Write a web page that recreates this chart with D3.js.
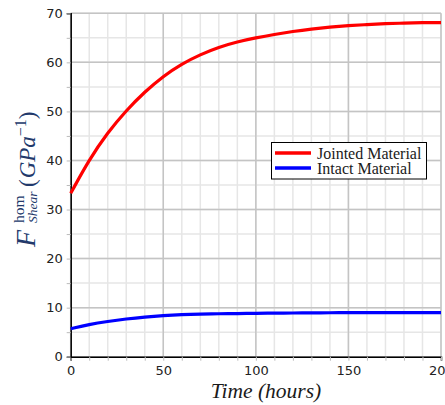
<!DOCTYPE html>
<html lang="en">
<head>
    <meta charset="UTF-8">
    <title>F shear hom vs time</title>
    <style>
        body { margin: 0; background: #fff; }
        svg { display: block; }
    </style>
</head>
<body>
    <div id="chart"></div>
    <script src="https://d3js.org/d3.v7.min.js"></script>
    <script>
        // values
        const timeHours = [0, 10, 20, 30, 40, 50, 60, 70, 80, 90, 100, 110, 120, 130, 140, 150, 160, 170, 180, 190, 200];
        const jointed = [33.3, 40.2, 45.7, 50.2, 54.0, 57.2, 59.7, 61.6, 63.1, 64.2, 65.0, 65.7, 66.3, 66.8, 67.2, 67.5, 67.7, 67.9, 68.0, 68.1, 68.1];
        const intact = [5.7, 6.6, 7.2, 7.7, 8.1, 8.4, 8.6, 8.7, 8.75, 8.8, 8.85, 8.9, 8.9, 8.95, 8.95, 9.0, 9.0, 9.0, 9.0, 9.0, 9.0];
        const xTicks = [0, 50, 100, 150, 200];
        const yTicks = [0, 10, 20, 30, 40, 50, 60, 70];
        const seriesNames = ["Jointed Material", "Intact Material"];
        const seriesColors = ["#ff0000", "#0000ff"];

        const width = 445, height = 405;
        const margin = { left: 70.7, right: 4, top: 13.3, bottom: 48.3 };

        const svg = d3.select("#chart").append("svg")
            .attr("width", width)
            .attr("height", height);

        const x = d3.scaleLinear().domain([0, 200]).range([margin.left, width - margin.right]);
        const y = d3.scaleLinear().domain([0, 70]).range([height - margin.bottom, margin.top]);

        // minor grid
        const xMinor = d3.range(0, 201, 10);
        const yMinor = d3.range(0, 71, 5);
        svg.append("g").selectAll("line").data(xMinor).join("line")
            .attr("x1", d => x(d)).attr("x2", d => x(d))
            .attr("y1", y(0)).attr("y2", y(70))
            .attr("stroke", "#e6e6e6").attr("stroke-width", 1.5);
        svg.append("g").selectAll("line").data(yMinor).join("line")
            .attr("y1", d => y(d)).attr("y2", d => y(d))
            .attr("x1", x(0)).attr("x2", x(200))
            .attr("stroke", "#e6e6e6").attr("stroke-width", 1.5);

        // major grid
        svg.append("g").selectAll("line").data(xTicks).join("line")
            .attr("x1", d => x(d)).attr("x2", d => x(d))
            .attr("y1", y(0)).attr("y2", y(70))
            .attr("stroke", "#c4c4c4").attr("stroke-width", 1.5);
        svg.append("g").selectAll("line").data(yTicks).join("line")
            .attr("y1", d => y(d)).attr("y2", d => y(d))
            .attr("x1", x(0)).attr("x2", x(200))
            .attr("stroke", "#c4c4c4").attr("stroke-width", 1.5);

        // axes
        const xAxis = d3.axisBottom(x).tickValues(xMinor).tickSize(4)
            .tickFormat(d => xTicks.includes(d) ? d : "");
        const gx = svg.append("g").attr("transform", `translate(0,${y(0)})`).call(xAxis);
        const yAxis = d3.axisLeft(y).tickValues(yMinor).tickSize(4)
            .tickFormat(d => yTicks.includes(d) ? d : "");
        const gy = svg.append("g").attr("transform", `translate(${x(0)},0)`).call(yAxis);

        [gx, gy].forEach(g => {
            g.select(".domain").attr("stroke", "#000").attr("stroke-width", 1.5);
            g.selectAll(".tick line").attr("stroke", "#bbb");
            g.selectAll("text")
                .attr("font-family", "DejaVu Sans, sans-serif")
                .attr("font-size", 13)
                .attr("fill", "#222");
        });
        gx.selectAll("text").attr("dy", "0.9em");
        gy.selectAll("text").attr("x", -8);

        // lines
        const line = d3.line().curve(d3.curveBasis)
            .x((d, i) => x(timeHours[i]))
            .y(d => y(d));
        [jointed, intact].forEach((s, i) => {
            svg.append("path").datum(s)
                .attr("d", line)
                .attr("fill", "none")
                .attr("stroke", seriesColors[i])
                .attr("stroke-width", 3.2)
                .attr("stroke-linejoin", "round");
        });

        // legend
        const lg = svg.append("g");
        lg.append("rect")
            .attr("x", 271.5).attr("y", 142.5)
            .attr("width", 155).attr("height", 36.5)
            .attr("fill", "#fff").attr("stroke", "#000").attr("stroke-width", 1);
        seriesNames.forEach((name, i) => {
            const ly = 153 + i * 15;
            lg.append("line")
                .attr("x1", 275).attr("x2", 311)
                .attr("y1", ly).attr("y2", ly)
                .attr("stroke", seriesColors[i]).attr("stroke-width", 3.5);
            lg.append("text")
                .attr("x", 317).attr("y", ly + 5.5)
                .attr("font-family", "Liberation Serif, serif")
                .attr("font-size", 16)
                .attr("fill", "#1a1a1a")
                .text(name);
        });

        // x label
        svg.append("text")
            .attr("x", 266).attr("y", 398)
            .attr("text-anchor", "middle")
            .attr("font-family", "Liberation Serif, serif")
            .attr("font-style", "italic")
            .attr("font-size", 21.5)
            .attr("fill", "#1a1a1a")
            .text("Time (hours)");

        // y label, rotated
        const labColor = "#22396b";
        const yl = svg.append("g").attr("transform", "translate(35,247) rotate(-90)")
            .attr("font-family", "Liberation Serif, serif")
            .attr("fill", labColor);
        yl.append("text").attr("x", 0).attr("y", 0)
            .attr("font-style", "italic").attr("font-size", 28).text("F");
        yl.append("text").attr("x", 24).attr("y", -11)
            .attr("font-size", 15.5).text("hom");
        yl.append("text").attr("x", 24).attr("y", 2)
            .attr("font-style", "italic").attr("font-size", 13.5).text("Shear");
        const unit = yl.append("text").attr("x", 60).attr("y", 0).attr("font-size", 23);
        unit.append("tspan").text("(");
        unit.append("tspan").attr("font-style", "italic").attr("dx", 1).text("GPa");
        unit.append("tspan").attr("font-size", 16).attr("dy", -9).text("\u22121");
        unit.append("tspan").attr("dy", 9).text(")");
    </script>
</body>
</html>
